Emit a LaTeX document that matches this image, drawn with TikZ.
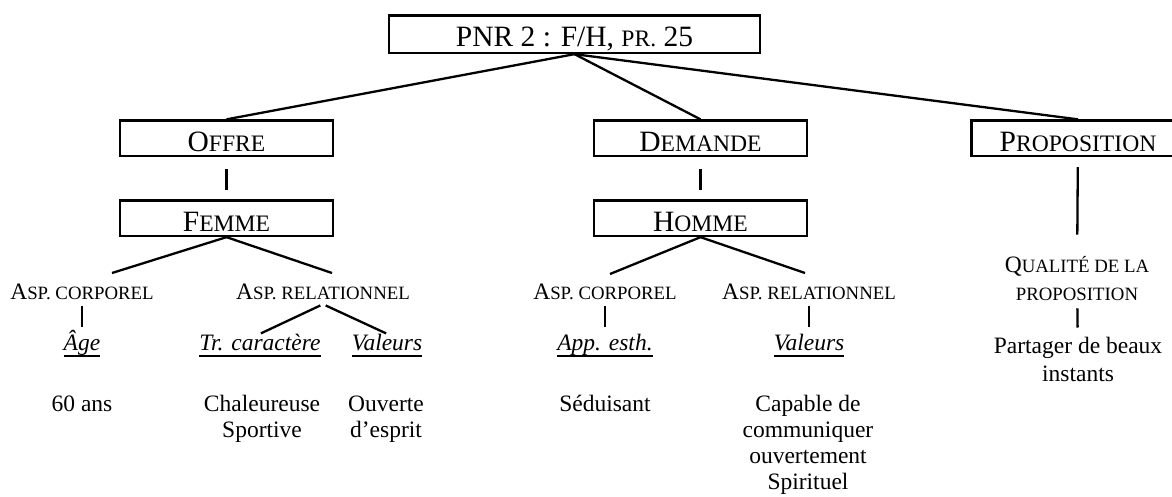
\documentclass[tikz,border=0pt]{standalone}
\usepackage{fontspec}
\setmainfont{Liberation Serif}
\makeatletter
\newcommand\petcap[1]{{\fontsize{\fpeval{0.8*\f@size}}{\f@baselineskip}\selectfont #1}}
\makeatother
\newcommand\souligne[1]{\setbox0\hbox{#1}\rlap{\rule[-6.5pt]{\wd0}{1.5pt}}\box0}

\begin{document}
\begin{tikzpicture}[x=1pt, y=-1pt,
	boite/.style={draw, line width=2.3pt, inner xsep=0pt, inner ysep=5pt, minimum width=213pt, text height=25.5pt, text depth=0pt, anchor=base, font=\fontsize{29.5}{33}\selectfont},
	etiq/.style={inner sep=0pt, text height=16pt, text depth=5pt, anchor=base, font=\fontsize{23.5}{26}\selectfont},
	crit/.style={etiq, font=\fontsize{23.5}{26}\selectfont\itshape},
	texte/.style={inner sep=0pt, align=center, anchor=base, font=\fontsize{23.5}{26}\selectfont},
	trait/.style={line width=2.3pt}]
	\clip (0,0) rectangle (1172,496);

	\node[boite, minimum width=371pt, text depth=2pt] (pnr) at (574.5,46) {PNR 2 : F/H, \petcap{PR.} 25};

	\node[boite] (offre) at (226.5,151) {O\petcap{FFRE}};
	\node[boite] (demande) at (700.5,151) {D\petcap{EMANDE}};
	\node[boite] (propo) at (1078,151) {P\petcap{ROPOSITION}};

	\node[boite] (femme) at (226.5,231) {F\petcap{EMME}};
	\node[boite] (homme) at (700.5,231) {H\petcap{OMME}};

	\node[etiq] (corpf) at (82,299) {A\petcap{SP. CORPOREL}};
	\node[etiq] (relf) at (323,299) {A\petcap{SP. RELATIONNEL}};
	\node[etiq] (corph) at (605,299) {A\petcap{SP. CORPOREL}};
	\node[etiq] (relh) at (809,299) {A\petcap{SP. RELATIONNEL}};
	% multi-line nodes sit on their last baseline
	\node[texte, font=\fontsize{23.5}{28}\selectfont] (qualite) at (1077,300) {Q\petcap{UALITÉ DE LA}\\\petcap{PROPOSITION}};

	\node[crit] (agef) at (82,350) {\souligne{Âge}};
	\node[crit] (carf) at (260,350) {\souligne{Tr. caractère}};
	\node[crit] (valf) at (387,350) {\souligne{Valeurs}};
	\node[crit] (esth) at (605,350) {\souligne{App. esth.}};
	\node[crit] (valh) at (809,350) {\souligne{Valeurs}};
	\node[texte, font=\fontsize{23.5}{28.5}\selectfont] (partage) at (1078,381.5) {Partager de beaux\\instants};

	\node[texte] (ans) at (82,411) {60 ans};
	\node[texte] (chal) at (262,437) {Chaleureuse\\Sportive};
	\node[texte] (ouv) at (386,437) {Ouverte\\d’esprit};
	\node[texte] (sed) at (605,411) {Séduisant};
	\node[texte] (capa) at (808,489) {Capable de\\communiquer\\ouvertement\\Spirituel};

	\coordinate (fg) at (112,273);
	\coordinate (fd) at (332,273);
	\coordinate (hg) at (610,274);
	\coordinate (hd) at (805,273);

	\draw[trait] (pnr.south) -- (offre.north);
	\draw[trait] (pnr.south) -- (demande.north);
	\draw[trait] (pnr.south) -- (propo.north);

	\draw[trait, shorten <=12pt, shorten >=9pt] (offre) -- (femme);
	\draw[trait, shorten <=12pt, shorten >=9pt] (demande) -- (homme);
	\draw[trait, shorten <=10pt, shorten >=21pt] (propo) -- (qualite);

	\draw[trait] (fg) -- (femme.south) -- (fd);
	\draw[trait] (hg) -- (homme.south) -- (hd);

	\draw[trait, shorten <=2pt, shorten >=7pt] (corpf.south) -- (agef.north);
	\draw[trait, shorten <=3pt, shorten >=1pt] (relf.south) -- (carf.north);
	\draw[trait, shorten <=3pt, shorten >=1pt] (relf.south) -- (valf.north);
	\draw[trait, shorten <=2pt, shorten >=7pt] (corph.south) -- (esth.north);
	\draw[trait, shorten <=2pt, shorten >=7pt] (relh.south) -- (valh.north);
	\draw[trait, shorten <=8pt, shorten >=9pt] (qualite) -- (partage);
\end{tikzpicture}
\end{document}
